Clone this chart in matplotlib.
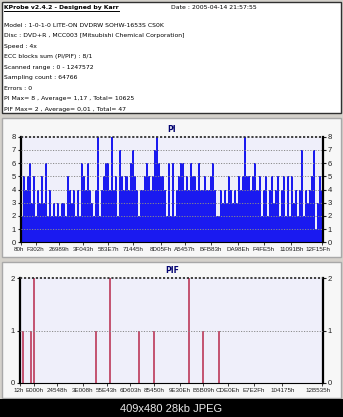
import matplotlib
matplotlib.use("Agg")
import matplotlib.pyplot as plt
import matplotlib.transforms as mtransforms
import numpy as np
from matplotlib.patches import Rectangle

W, H, DPI = 343, 417, 100

header_title = "KProbe v2.4.2 - Designed by Karr"
header_date = "Date : 2005-04-14 21:57:55"
info_lines = [
    "Model : 1-0-1-0 LITE-ON DVDRW SOHW-1653S CS0K",
    "Disc : DVD+R , MCC003 [Mitsubishi Chemical Corporation]",
    "Speed : 4x",
    "ECC blocks sum (PI/PIF) : 8/1",
    "Scanned range : 0 - 1247572",
    "Sampling count : 64766",
    "Errors : 0",
    "PI Max= 8 , Average= 1,17 , Total= 10625",
    "PIF Max= 2 , Average= 0,01 , Total= 47",
]
footer_text = "409x480 28kb JPEG"

pi_lba_end = 1247572
pif_lba_end = 1230000

pi_values = [
    2, 5, 4, 5, 6, 3, 5, 2, 4, 3,
    5, 3, 6, 2, 4, 2, 3, 2, 3, 2,
    3, 3, 2, 5, 4, 3, 4, 2, 4, 2,
    6, 5, 4, 6, 4, 3, 2, 4, 8, 2,
    4, 5, 6, 6, 4, 8, 4, 5, 2, 7,
    5, 4, 5, 4, 6, 7, 5, 4, 2, 4,
    4, 5, 6, 5, 4, 5, 7, 8, 6, 5,
    5, 4, 2, 6, 2, 6, 2, 4, 5, 6,
    6, 4, 5, 4, 6, 5, 5, 4, 6, 4,
    4, 5, 4, 4, 5, 6, 4, 2, 2, 4,
    3, 4, 3, 5, 4, 3, 4, 3, 5, 4,
    5, 8, 5, 5, 4, 5, 6, 4, 5, 2,
    4, 5, 2, 4, 5, 3, 4, 5, 2, 4,
    5, 2, 5, 2, 5, 3, 4, 2, 4, 7,
    2, 4, 3, 4, 5, 7, 1, 3, 5, 4,
]
pi_tick_labels = ["80h", "F302h", "26989h", "3F043h", "583E7h", "71445h", "8D05Fh",
                  "A5457h", "BFB83h", "DA98Eh", "F4FE5h", "11091Bh", "12F15Fh"]

pif_spike_lba = [10800, 44600, 58100, 308000, 366300, 483900, 544700, 685300, 742100, 809700]
pif_spike_values = [1, 1, 2, 1, 2, 1, 1, 2, 1, 1]
pif_tick_labels = ["12h", "E000h", "24548h", "3E008h", "55E43h", "6D603h", "85450h",
                   "9E30Eh", "B5B09h", "CDE0Eh", "E7E2Fh", "104175h", "12B535h"]

FONT = "DejaVu Sans"
TICKFONT = "Liberation Sans"

fig = plt.figure(figsize=(W / DPI, H / DPI), dpi=DPI, facecolor="#d4d1cb")


def rect(x0, y0, x1, y1):
    return [x0 / W, 1 - y1 / H, (x1 - x0) / W, (y1 - y0) / H]


bg = fig.add_axes([0, 0, 1, 1], zorder=0)
bg.set_xlim(0, W)
bg.set_ylim(H, 0)
bg.axis("off")

bg.add_patch(Rectangle((2, 2), 339, 111, facecolor="white", edgecolor="#303030", lw=1))
bg.add_patch(Rectangle((2, 118), 339, 139, facecolor="#f7f7f7", edgecolor="#a8a8a8", lw=1))
bg.add_patch(Rectangle((2, 262), 339, 136, facecolor="#f7f7f7", edgecolor="#a8a8a8", lw=1))
bg.add_patch(Rectangle((0, 399), W, 18, facecolor="black", edgecolor="none"))

FS_INFO = 4.4
t = bg.text(4, 7.5, header_title, fontsize=FS_INFO, fontweight="bold", family=FONT,
            va="center", ha="left", color="black")
bg.text(171, 7.5, header_date, fontsize=FS_INFO, family=FONT, va="center", ha="left")
fig.canvas.draw()
bb = t.get_window_extent()
bg.plot([bb.x0, bb.x1], [11.3, 11.3], color="black", lw=0.7)

for i, line in enumerate(info_lines):
    bg.text(4, 25 + i * 10.55, line, fontsize=FS_INFO, family=FONT, va="center", ha="left")

bg.text(W / 2, 409, footer_text, fontsize=8, family="Liberation Sans", color="#e8e8e8",
        ha="center", va="center")


def style_axis(ax, ymax, labels, xmax):
    ax.set_facecolor("#efeffa")
    ax.set_ylim(0, ymax)
    ax.set_xlim(0, xmax)
    ax.set_yticks(range(0, ymax + 1))
    ax.tick_params(axis="y", which="both", left=True, right=True, labelleft=True,
                   labelright=True, length=2, width=0.8, labelsize=5.5, pad=1.5,
                   colors="#202020")
    for lab in ax.get_yticklabels():
        lab.set_family(TICKFONT)
    pos = [int(s[:-1], 16) for s in labels]
    ax.set_xticks(pos)
    ax.set_xticklabels(labels, fontsize=4.5, family=TICKFONT)
    ax.tick_params(axis="x", length=2, width=0.6, pad=1.5, colors="#202020")
    ticklabels = ax.get_xticklabels()
    shift_first = mtransforms.ScaledTranslation(-1.5 / DPI, 0, fig.dpi_scale_trans)
    shift_last = mtransforms.ScaledTranslation(-4 / DPI, 0, fig.dpi_scale_trans)
    ticklabels[0].set_transform(ticklabels[0].get_transform() + shift_first)
    ticklabels[-1].set_transform(ticklabels[-1].get_transform() + shift_last)
    for y in range(1, ymax):
        ax.axhline(y, color="#8a8a8a", lw=0.7, ls=(0, (1.2, 1.5)), zorder=3)
    ax.axhline(ymax, color="#303030", lw=1.3, ls=(0, (1.2, 1.0)), zorder=3, clip_on=False)
    ax.spines["top"].set_visible(False)
    ax.spines["left"].set_linewidth(1.6)
    ax.spines["right"].set_linewidth(1.6)
    ax.spines["bottom"].set_linewidth(0.8)
    for s in ax.spines.values():
        s.set_color("black")


# PI chart
ax1 = fig.add_axes(rect(20.7, 136.7, 323, 242.3), zorder=2)
n = len(pi_values)
step = pi_lba_end / n
xs = np.arange(n) * step + step / 2
ax1.bar(xs, pi_values, width=step, color="#1a1af0", edgecolor="none", zorder=2)
style_axis(ax1, 8, pi_tick_labels, pi_lba_end)
bg.text(172, 130, "PI", fontsize=5.5, fontweight="bold", color="#000070", family=FONT,
        ha="center", va="center")

# PIF chart
ax2 = fig.add_axes(rect(20, 278.3, 323, 382.7), zorder=2)
ax2.vlines(pif_spike_lba, 0, pif_spike_values, color="#b8284a", lw=1.1, zorder=2)
style_axis(ax2, 2, pif_tick_labels, pif_lba_end)
bg.text(172, 270.5, "PIF", fontsize=5.5, fontweight="bold", color="#000070", family=FONT,
        ha="center", va="center")

fig.savefig("out.png", dpi=DPI, facecolor=fig.get_facecolor())
